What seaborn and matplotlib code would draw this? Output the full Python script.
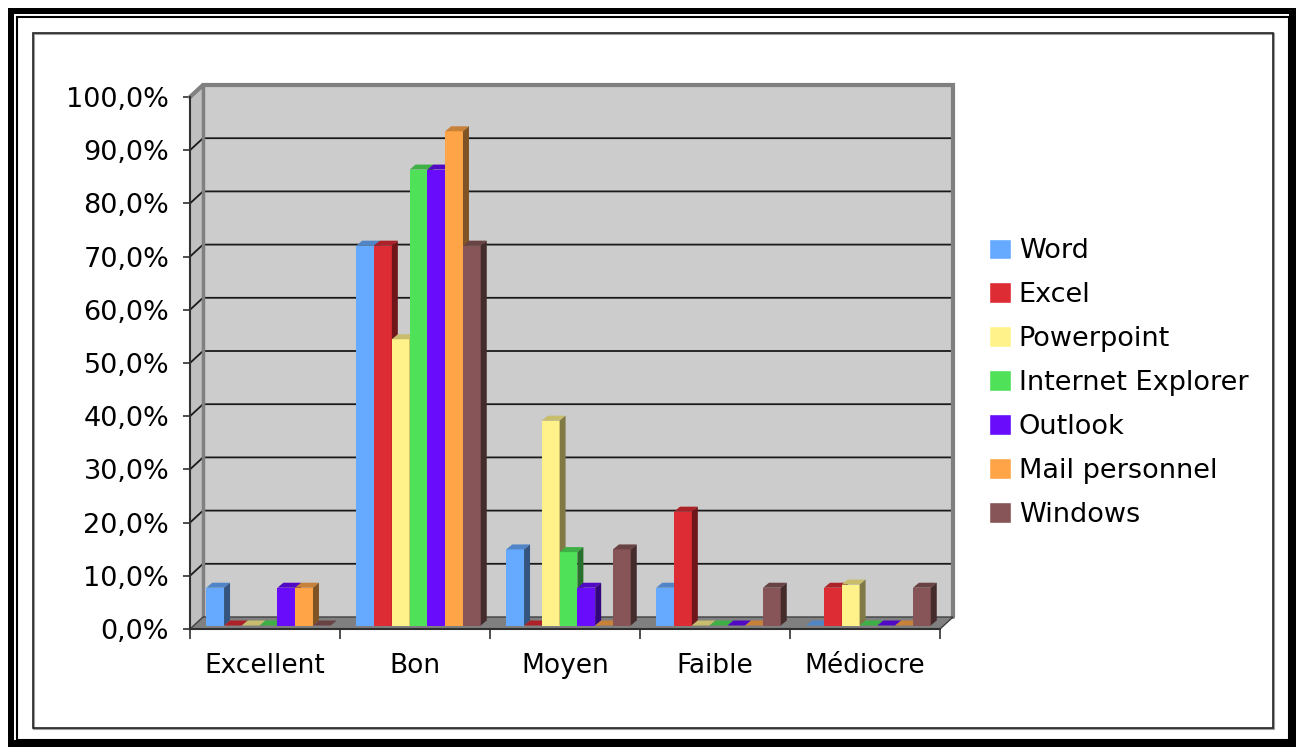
import matplotlib
matplotlib.use("Agg")
import matplotlib.pyplot as plt
import seaborn as sns
import pandas as pd
from matplotlib.patches import Rectangle, Polygon
from matplotlib.lines import Line2D
from matplotlib.colors import to_rgb

# =====================
# Data
# =====================
niveaux = ["Excellent", "Bon", "Moyen", "Faible", "Médiocre"]
logiciels = ["Word", "Excel", "Powerpoint", "Internet Explorer",
             "Outlook", "Mail personnel", "Windows"]

word = [7.1, 71.4, 14.3, 7.1, 0.0]
excel = [0.0, 71.4, 0.0, 21.4, 7.1]
powerpoint = [0.0, 53.8, 38.5, 0.0, 7.7]
internet_explorer = [0.0, 85.7, 13.8, 0.0, 0.0]
outlook = [7.1, 85.7, 7.1, 0.0, 0.0]
mail_perso = [7.1, 92.9, 0.0, 0.0, 0.0]
windows = [0.0, 71.4, 14.3, 7.1, 7.1]

couleurs = ["#66aaff", "#de2c34", "#fff28a", "#4fe158",
            "#680cfb", "#ffa548", "#875557"]

yticks = [0, 10, 20, 30, 40, 50, 60, 70, 80, 90, 100]

series = [word, excel, powerpoint, internet_explorer, outlook, mail_perso, windows]
rows = []
for nom, vals in zip(logiciels, series):
    for niv, v in zip(niveaux, vals):
        rows.append({"Niveau": niv, "Logiciel": nom, "Pourcentage": v})
df = pd.DataFrame(rows)

# =====================
# Figure
# =====================
sns.set_theme(style="white")
plt.rcParams["font.family"] = ["DejaVu Sans"]

W, H = 1296, 747
fig = plt.figure(figsize=(W / 100, H / 100), dpi=100)
fig.patch.set_facecolor("white")


def px_rect(x0, y0, x1, y1, **kw):
    # rectangle in figure pixel coordinates (y from top)
    fig.add_artist(Rectangle((x0 / W, 1 - y1 / H), (x1 - x0) / W, (y1 - y0) / H,
                             transform=fig.transFigure, **kw))


# outer frame
px_rect(8, 8, 14, 747, color="black", lw=0)
px_rect(8, 8, 1296, 14, color="black", lw=0)
px_rect(1289, 8, 1296, 747, color="black", lw=0)
px_rect(8, 740, 1296, 747, color="black", lw=0)
px_rect(16.5, 16.5, 1289, 740, fill=False, ec="black", lw=1.5)
px_rect(34, 34, 1274, 729, fill=False, ec="#a0a0a0", lw=1.5)
px_rect(33, 33, 1273, 728, fill=False, ec="#222222", lw=1.2)

ax = fig.add_axes([190 / W, 1 - 629 / H, 750 / W, 532 / H])
ax.patch.set_visible(False)

sns.barplot(data=df, x="Niveau", y="Pourcentage", hue="Logiciel",
            order=niveaux, hue_order=logiciels, palette=couleurs,
            width=0.83, saturation=1, errorbar=None, ax=ax)

ax.set_xlim(-0.5, len(niveaux) - 0.5)
ax.set_ylim(0, 100)

# 3D look: depth of the box and of the bars (data units)
px_x = 750 / len(niveaux)      # pixels per category
px_y = 532 / 100               # pixels per percent
DX, DY = 13 / px_x, 12 / px_y
BX, BY = 6 / px_x, 5 / px_y
SX, SY = 3.5 / px_x, 3.5 / px_y
x0, x1 = -0.5, len(niveaux) - 0.5

# back wall
ax.add_patch(Polygon([(x0 + DX, DY), (x1 + DX, DY), (x1 + DX, 100 + DY), (x0 + DX, 100 + DY)],
                     closed=True, fc="#cccccc", ec="none", zorder=0, clip_on=False))
# left wall
ax.add_patch(Polygon([(x0, 0), (x0 + DX, DY), (x0 + DX, 100 + DY), (x0, 100)],
                     closed=True, fc="#c0c0c0", ec="none", zorder=0, clip_on=False))
# gridlines on the walls
for v in yticks[1:-1]:
    ax.add_line(Line2D([x0, x0 + DX, x1 + DX], [v, v + DY, v + DY],
                       color="#1a1a1a", lw=1.3, zorder=1, clip_on=False))
# wall outlines
ax.add_line(Line2D([x0, x0 + DX, x1 + DX, x1 + DX], [100, 100 + DY, 100 + DY, DY],
                   color="#808080", lw=3, zorder=1, clip_on=False,
                   solid_joinstyle="miter"))
ax.add_line(Line2D([x0 + DX, x0 + DX], [DY, 100 + DY],
                   color="#808080", lw=2.5, zorder=1, clip_on=False))
# floor
ax.add_patch(Polygon([(x0, 0), (x1, 0), (x1 + DX, DY), (x0 + DX, DY)],
                     closed=True, fc="#808080", ec="#404040", lw=1,
                     zorder=1, clip_on=False))


def shade(c, f):
    r, g, b = to_rgb(c)
    return (r * f, g * f, b * f)


# shift bars to mid-depth and add top / side faces;
# each bar hides the side face of the bar on its left
for k, cont in enumerate(ax.containers):
    z = 3 + k * 0.1
    for bar in cont:
        fc = bar.get_facecolor()
        bx, bw, bh = bar.get_x() + SX, bar.get_width(), bar.get_height()
        by = SY
        bar.set_x(bx)
        bar.set_y(by)
        bar.set_edgecolor("none")
        bar.set_zorder(z)
        top = by + bh
        ax.add_patch(Polygon([(bx, top), (bx + bw, top), (bx + bw + BX, top + BY), (bx + BX, top + BY)],
                             closed=True, fc=shade(fc, 0.78), ec="none", zorder=z + 0.05, clip_on=False))
        if bh > 0:
            ax.add_patch(Polygon([(bx + bw, by), (bx + bw + BX, by + BY), (bx + bw + BX, top + BY), (bx + bw, top)],
                                 closed=True, fc=shade(fc, 0.5), ec="none", zorder=z + 0.05, clip_on=False))

# axes, ticks and labels
for s in ["top", "right"]:
    ax.spines[s].set_visible(False)
for s in ["left", "bottom"]:
    ax.spines[s].set_color("#303030")
    ax.spines[s].set_linewidth(1.5)
    ax.spines[s].set_zorder(4)

ax.set_yticks(yticks)
ax.set_yticklabels([f"{v:.1f}%".replace(".", ",") for v in yticks])
ax.tick_params(axis="y", which="major", left=True, direction="out", length=5,
               width=1.2, color="#303030", pad=10, labelsize=19.5, labelcolor="black")
ax.set_xticks(range(len(niveaux)))
ax.set_xticklabels(niveaux)
ax.set_xticks([i - 0.5 for i in range(len(niveaux) + 1)], minor=True)
ax.tick_params(axis="x", which="major", bottom=False, length=0, pad=17,
               labelsize=19, labelcolor="black")
ax.tick_params(axis="x", which="minor", bottom=True, direction="out", length=7,
               width=1.2, color="#303030")
ax.set_xlabel("")
ax.set_ylabel("")
ax.grid(False)

# legend
handles, labels = ax.get_legend_handles_labels()
ax.get_legend().remove()
fig.legend(handles, labels, loc="center left",
           bbox_to_anchor=(989 / W, 1 - 383 / H), frameon=False,
           fontsize=19.5, handlelength=0.8, handleheight=0.8,
           handletextpad=0.3, labelspacing=0.66, borderpad=0, borderaxespad=0,
           labelcolor="black")

fig.savefig("out.png", dpi=100)
